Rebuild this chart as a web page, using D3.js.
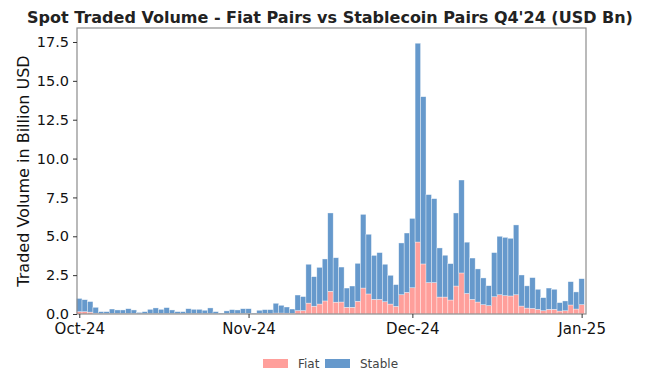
<!DOCTYPE html>
<html>
<head>
<meta charset="utf-8">
<script src="https://cdn.jsdelivr.net/npm/d3@7"></script>
<style>
  html, body { margin: 0; padding: 0; background: #fff; }
  svg { display: block; font-family: "DejaVu Sans", sans-serif; }
</style>
</head>
<body>
<svg id="chart" width="669" height="383"></svg>
<script>
// ---- Data (USD Bn), daily from 2024-10-01 to 2025-01-01 ----
const startDate = "2024-10-01";
const endDate = "2025-01-01";
const fiat = [
  0.15,0.15,0.12,0.05,0.03,0.03,0.03,0.03,0.03,0.03,0.03,0.02,0.02,0.03,0.03,0.03,0.03,0.03,0.02,0.02,0.03,0.03,0.03,0.03,0.03,0.02,0.01,0.02,0.03,0.03,0.03,
  0.03,0.01,0.03,0.03,0.03,0.06,0.06,0.05,0.04,0.22,0.22,0.70,0.50,0.64,0.84,1.46,0.76,0.77,0.43,0.43,0.82,1.67,1.29,0.94,0.94,0.79,0.64,0.49,1.24,1.39,
  1.69,4.63,3.22,2.02,2.02,1.09,1.09,0.90,1.80,2.64,1.32,0.94,0.77,0.60,0.54,1.11,1.24,1.18,1.16,1.24,0.51,0.38,0.36,0.30,0.21,0.30,0.30,0.19,0.21,0.58,0.32,
  0.60
];
const stable = [
  0.85,0.77,0.68,0.38,0.12,0.12,0.29,0.23,0.23,0.31,0.23,0.08,0.13,0.27,0.36,0.27,0.38,0.23,0.13,0.13,0.31,0.27,0.27,0.21,0.36,0.13,0.05,0.18,0.25,0.23,0.31,
  0.31,0.05,0.21,0.25,0.25,0.63,0.50,0.40,0.28,1.00,0.90,2.50,1.90,2.36,2.70,5.04,2.86,2.25,1.24,1.37,2.44,4.74,3.84,2.83,3.01,2.41,1.85,1.40,3.33,3.82,
  4.46,12.79,10.76,5.66,5.40,3.16,2.69,2.34,4.70,5.98,3.30,2.66,2.13,1.72,1.28,2.84,3.76,3.75,3.71,4.49,2.00,1.43,1.98,1.29,0.84,1.37,1.29,0.54,0.63,1.50,1.10,
  1.67
];
const seriesNames = ["Fiat", "Stable"];
const seriesColors = ["#ff9f9b", "#6699cc"];
const yTicks = [0, 2.5, 5, 7.5, 10, 12.5, 15, 17.5];
const xTickDates = ["2024-10-01", "2024-11-01", "2024-12-01", "2025-01-01"];
const titleText = "Spot Traded Volume - Fiat Pairs vs Stablecoin Pairs Q4'24 (USD Bn)";
const yLabelText = "Traded Volume in Billion USD";

// ---- Build table ----
const parse = d3.utcParse("%Y-%m-%d");
const dates = d3.utcDay.range(parse(startDate), d3.utcDay.offset(parse(endDate), 1));
const table = dates.map((d, i) => ({ date: d, Fiat: fiat[i], Stable: stable[i] }));

// ---- Layout ----
const svg = d3.select("#chart");
const plot = { left: 77, right: 586, top: 28, bottom: 314 };
const dayMs = 86400000;

const x = d3.scaleUtc()
  .domain([new Date(+dates[0] - 0.42 * dayMs), new Date(+dates[dates.length - 1] + 0.8 * dayMs)])
  .range([plot.left, plot.right]);
const y = d3.scaleLinear().domain([0, 18.4]).range([plot.bottom, plot.top]);

const stack = d3.stack().keys(seriesNames);
const layers = stack(table);
const color = d3.scaleOrdinal().domain(seriesNames).range(seriesColors);

const g = svg.append("g");
g.selectAll("g.layer")
  .data(layers)
  .join("g")
  .attr("class", "layer")
  .attr("fill", d => color(d.key))
  .selectAll("rect")
  .data(d => d)
  .join("rect")
  .attr("x", d => x(new Date(+d.data.date - 0.5 * dayMs)))
  .attr("width", d => x(new Date(+d.data.date + 0.5 * dayMs)) - x(new Date(+d.data.date - 0.5 * dayMs)))
  .attr("y", d => y(d[1]))
  .attr("height", d => Math.max(0, y(d[0]) - y(d[1])))
  .attr("stroke", "#ffffff")
  .attr("stroke-opacity", 0.6)
  .attr("stroke-width", 0.6);

// Frame
svg.append("rect")
  .attr("x", plot.left).attr("y", plot.top)
  .attr("width", plot.right - plot.left).attr("height", plot.bottom - plot.top)
  .attr("fill", "none").attr("stroke", "#8c8c8c").attr("stroke-width", 1.2);

// Y axis
const yAxis = d3.axisLeft(y).tickValues(yTicks).tickFormat(d3.format(".1f")).tickSize(4).tickPadding(4);
const yg = svg.append("g").attr("transform", `translate(${plot.left},0)`).call(yAxis);
yg.select(".domain").remove();
yg.selectAll(".tick line").attr("stroke", "#333");
yg.selectAll(".tick text").attr("font-size", 14.5).attr("fill", "#111").attr("font-family", "DejaVu Sans");

// X axis
const xAxis = d3.axisBottom(x).tickValues(xTickDates.map(parse)).tickFormat(d3.utcFormat("%b-%y")).tickSize(4).tickPadding(5);
const xg = svg.append("g").attr("transform", `translate(0,${plot.bottom})`).call(xAxis);
xg.select(".domain").remove();
xg.selectAll(".tick line").attr("stroke", "#333");
xg.selectAll(".tick text").attr("font-size", 15).attr("fill", "#111").attr("font-family", "DejaVu Sans");

// Title
svg.append("text")
  .attr("x", 330).attr("y", 23)
  .attr("text-anchor", "middle")
  .attr("font-size", 16).attr("font-weight", "bold").attr("fill", "#222")
  .text(titleText);

// Y label
svg.append("text")
  .attr("transform", `translate(29,${(plot.top + plot.bottom) / 2}) rotate(-90)`)
  .attr("text-anchor", "middle")
  .attr("font-size", 16).attr("fill", "#111")
  .text(yLabelText);

// Legend
const legendItems = [
  { name: seriesNames[0], sx: 263, tx: 298 },
  { name: seriesNames[1], sx: 325, tx: 360 }
];
const lg = svg.append("g");
legendItems.forEach(it => {
  lg.append("rect").attr("x", it.sx).attr("y", 359).attr("width", 25).attr("height", 9)
    .attr("fill", color(it.name));
  lg.append("text").attr("x", it.tx).attr("y", 368).attr("font-size", 12).attr("fill", "#444")
    .text(it.name);
});
</script>
</body>
</html>
